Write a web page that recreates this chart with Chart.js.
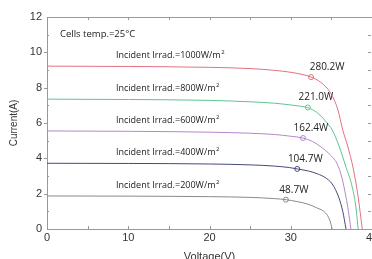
<!DOCTYPE html>
<html>
<head>
<meta charset="utf-8">
<script src="https://cdn.jsdelivr.net/npm/chart.js@4.4.1/dist/chart.umd.min.js"></script>
<style>
  html, body { margin: 0; padding: 0; background: #fff; }
  canvas { display: block; }
</style>
</head>
<body>
<canvas id="ivChart" width="372" height="259"></canvas>
<script>
// irradiance levels, W/m2
var irradiance = [1000, 800, 600, 400, 200];
var lineColors = ['#e5707e', '#5fc48f', '#b585cc', '#444a78', '#8a8a8a'];

// I-V curves: [voltage, current]
var curve1000 = [[0, 9.22], [10, 9.2], [20, 9.15], [25, 9.08], [28, 8.98], [30, 8.87], [31.5, 8.74], [32.5, 8.6], [33.7, 8.3], [34.9, 7.7], [35.8, 6.75], [36.4, 5.6], [37.0, 4.7], [37.7, 3.4], [38.3, 1.8], [38.8, 0]];
var curve800 = [[0, 7.35], [10, 7.33], [20, 7.28], [25, 7.2], [28, 7.12], [30, 7.02], [31.2, 6.95], [32.1, 6.87], [33.2, 6.6], [34.3, 6.1], [35.1, 5.6], [35.9, 4.75], [36.8, 3.5], [37.5, 2.5], [38.0, 1.3], [38.3, 0]];
var curve600 = [[0, 5.55], [10, 5.53], [20, 5.48], [25, 5.42], [28, 5.35], [30, 5.25], [31.5, 5.15], [32.7, 4.95], [33.8, 4.62], [34.8, 4.22], [35.7, 3.7], [36.3, 2.9], [36.8, 1.8], [37.1, 1.0], [37.4, 0]];
var curve400 = [[0, 3.72], [10, 3.71], [20, 3.68], [25, 3.63], [28, 3.56], [29.8, 3.48], [30.8, 3.4], [32.2, 3.28], [33.3, 3.12], [34.2, 2.92], [35.1, 2.55], [35.9, 1.8], [36.4, 1.0], [36.8, 0]];
var curve200 = [[0, 1.87], [10, 1.86], [20, 1.83], [25, 1.79], [28, 1.72], [29.4, 1.66], [30.8, 1.55], [32, 1.42], [33.2, 1.2], [34.3, 0.9], [34.8, 0.5], [35.1, 0]];

// maximum power points
var mppVoltage = [32.5, 32.1, 31.5, 30.8, 29.4];
var mppCurrent = [8.6, 6.88, 5.15, 3.4, 1.66];
var mppLabels = ['280.2W', '221.0W', '162.4W', '104.7W', '48.7W'];

var curves = [curve1000, curve800, curve600, curve400, curve200];

function toPoints(arr) {
    return arr.map(function (p) { return { x: p[0], y: p[1] }; });
}

var datasets = [];
curves.forEach(function (c, i) {
    datasets.push({
        label: irradiance[i] + 'W/m2',
        data: toPoints(c),
        borderColor: lineColors[i],
        borderWidth: 1,
        pointRadius: 0,
        showLine: true,
        cubicInterpolationMode: 'monotone'
    });
});
curves.forEach(function (c, i) {
    datasets.push({
        label: mppLabels[i],
        data: [{ x: mppVoltage[i], y: mppCurrent[i] }],
        borderColor: lineColors[i],
        backgroundColor: '#fff',
        borderWidth: 1,
        pointRadius: 2.5,
        showLine: false
    });
});

// frame, small ticks and text notes
var decorations = {
    id: 'decorations',
    afterDatasetsDraw: function (chart) {
        var c = chart.ctx, a = chart.chartArea;
        var xs = chart.scales.x, ys = chart.scales.y;
        c.save();
        c.strokeStyle = '#999';
        c.lineWidth = 1;
        c.beginPath();
        c.moveTo(a.left, a.top + 0.5);
        c.lineTo(a.right, a.top + 0.5);
        for (var v = 5; v < 40; v += 5) {
            var px = Math.round(xs.getPixelForValue(v)) + 0.5;
            c.moveTo(px, a.top); c.lineTo(px, a.top + 3);
            c.moveTo(px, a.bottom); c.lineTo(px, a.bottom - 3);
        }
        for (var w = 1; w < 12; w++) {
            var py = Math.round(ys.getPixelForValue(w)) + 0.5;
            if (w % 2 === 0) {
                c.moveTo(a.left - 3, py); c.lineTo(a.left, py);
            } else {
                c.moveTo(a.left, py); c.lineTo(a.left + 2, py);
            }
            c.moveTo(a.right - 4, py); c.lineTo(a.right - 1, py);
        }
        c.stroke();

        c.fillStyle = '#222';
        c.font = '9.5px "Open Sans", sans-serif';
        c.textBaseline = 'middle';
        c.textAlign = 'left';
        c.fillText('Cells temp.=25\u00b0C', a.left + 13, a.top + 17);
        irradiance.forEach(function (irr, i) {
            var y = ys.getPixelForValue(curves[i][0][1]) - 11;
            c.font = '9px "Open Sans", sans-serif';
            var t = 'Incident Irrad.=' + irr + 'W/m';
            c.fillText(t, 116, y);
            var tw = c.measureText(t).width;
            c.font = '6px "Open Sans", sans-serif';
            c.fillText('2', 116 + tw + 0.5, y - 3);
        });
        c.font = '10px "Open Sans", sans-serif';
        c.textAlign = 'center';
        mppLabels.forEach(function (lab, i) {
            var x = xs.getPixelForValue(mppVoltage[i]);
            var y = ys.getPixelForValue(mppCurrent[i]);
            c.fillText(lab, x + (i === 0 ? 16 : 8), y - 10);
        });
        c.restore();
    }
};

new Chart(document.getElementById('ivChart').getContext('2d'), {
    type: 'scatter',
    data: { datasets: datasets },
    options: {
        responsive: false,
        animation: false,
        layout: { autoPadding: false, padding: { top: 17, right: 0, left: 0, bottom: 0 } },
        plugins: { legend: { display: false }, tooltip: { enabled: false } },
        scales: {
            x: {
                type: 'linear',
                min: 0,
                max: 40,
                afterFit: function (s) { s.height = 30; s.paddingLeft = 0; s.paddingRight = 0; },
                grid: { display: false, drawTicks: false },
                border: { display: true, color: '#999' },
                ticks: {
                    stepSize: 5,
                    autoSkip: false,
                    maxRotation: 0,
                    padding: 2,
                    color: '#333',
                    font: { size: 11, family: 'Liberation Sans' },
                    callback: function (v) { return v % 10 === 0 ? v : ''; }
                },
                title: {
                    display: true,
                    text: 'Voltage(V)',
                    color: '#333',
                    font: { size: 11, family: 'Liberation Sans' },
                    padding: { top: 0, bottom: -5 }
                }
            },
            y: {
                min: 0,
                max: 12,
                afterFit: function (s) { s.width = 47; s.paddingTop = 0; s.paddingBottom = 0; },
                grid: { display: false, drawTicks: false },
                border: { display: true, color: '#999' },
                ticks: {
                    stepSize: 2,
                    padding: 5,
                    color: '#333',
                    font: { size: 11, family: 'Liberation Sans' }
                },
                title: {
                    display: true,
                    text: 'Current(A)',
                    color: '#333',
                    font: { size: 10, family: 'Liberation Sans' },
                    padding: { top: 8, bottom: 0 }
                }
            }
        }
    },
    plugins: [decorations]
});
</script>
</body>
</html>
